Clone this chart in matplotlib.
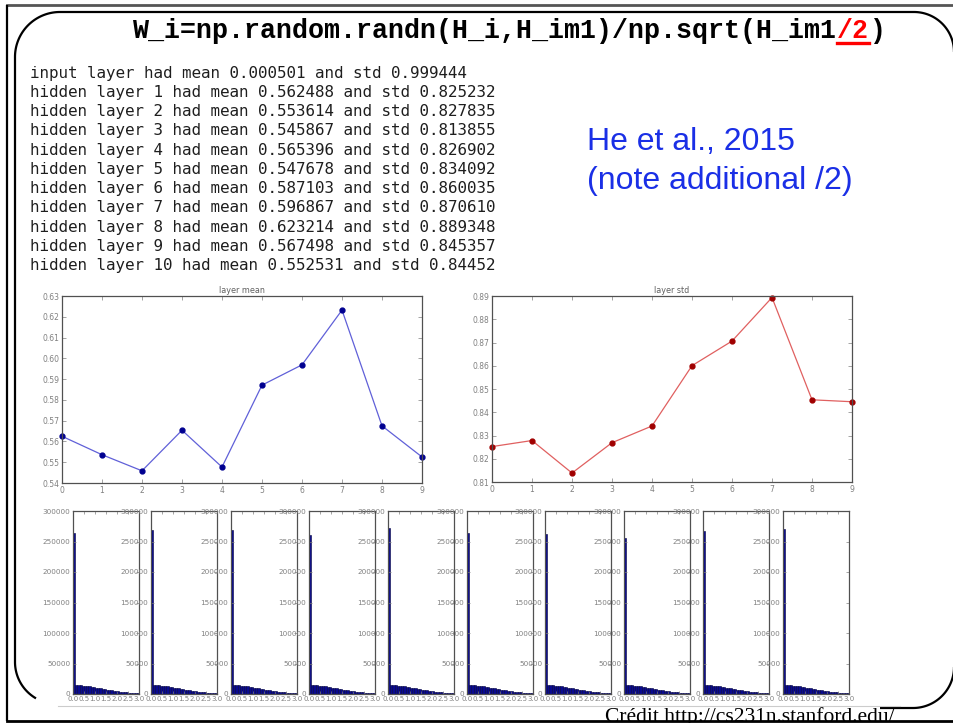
import numpy as np
import matplotlib
matplotlib.use('Agg')
import matplotlib.pyplot as plt

# ---------------- data ----------------
layers = list(range(10))
layer_means = [0.562488, 0.553614, 0.545867, 0.565396, 0.547678,
               0.587103, 0.596867, 0.623214, 0.567498, 0.552531]
layer_stds = [0.825232, 0.827835, 0.813855, 0.826902, 0.834092,
              0.860035, 0.870610, 0.889348, 0.845357, 0.844520]
input_mean = 0.000501
input_std = 0.999444

# histogram of activations per layer (estimated): spike at zero + decaying tail
zero_bin_counts = [264000, 269000, 269000, 261000, 272000,
                   264000, 262000, 256000, 267000, 270000]
tail_counts = [15000, 14700, 14300, 13900, 13400, 12900, 12300, 11700, 11100,
               10500, 9900, 9200, 8600, 7900, 7300, 6700, 6100, 5500, 5000,
               4500, 4000, 3500, 3100, 2700, 2300, 1900, 1600, 1300, 1000]
hist_range = (0.0, 3.0)
hist_yticks = [0, 50000, 100000, 150000, 200000, 250000, 300000]
hist_xticks = [0.0, 0.5, 1.0, 1.5, 2.0, 2.5, 3.0]

title_left = "W_i=np.random.randn(H_i,H_im1)/np.sqrt(H_im1"
title_red = "/2"
title_right = ")"
note_lines = ["He et al., 2015", "(note additional /2)"]
credit = "Crédit http://cs231n.stanford.edu/"

W, H = 954, 723
fig = plt.figure(figsize=(W / 100, H / 100), dpi=100)
fig.patch.set_facecolor('white')

# overlay in pixel coordinates (y downwards)
bg = fig.add_axes([0, 0, 1, 1])
bg.set_xlim(0, W)
bg.set_ylim(H, 0)
bg.axis('off')


def px_ax(l, t, r, b):
    return fig.add_axes([l / W, 1 - b / H, (r - l) / W, (b - t) / H])


def arc(cx, cy, r, t0, t1, **kw):
    t = np.radians(np.linspace(t0, t1, 60))
    bg.plot(cx + r * np.cos(t), cy - r * np.sin(t), **kw)


# ---------------- slide frame ----------------
fk = dict(color='black', lw=1.6, solid_capstyle='butt')
bg.plot([7, W], [5, 5], color='#555555', lw=2)
bg.plot([7, 7], [5, 721], **fk)
bg.plot([7, W], [721, 721], color='black', lw=2)
# inner rounded shape
bg.plot([60, 914], [12, 12], **fk)
arc(60, 57, 45, 90, 180, **fk)
bg.plot([15, 15], [57, 662], **fk)
arc(57, 662, 42, 180, 240, **fk)
arc(914, 52, 40, 0, 90, **fk)
arc(913, 667, 41, 270, 360, **fk)
bg.plot([880, 913], [708, 708], **fk)
bg.plot([58, 900], [706, 706], color='#cccccc', lw=0.8)

# ---------------- title ----------------
tfs = 19.2
cw = tfs * 0.6 * 100 / 72.0
x0 = 133
tkw = dict(fontsize=tfs, fontweight='bold', family='Liberation Mono', va='baseline', ha='left')
bg.text(x0, 38, title_left, color='black', **tkw)
xr = x0 + len(title_left) * cw
bg.text(xr, 38, title_red, color='#ff0000', **tkw)
bg.plot([xr, xr + len(title_red) * cw], [42.5, 42.5], color='#ff0000', lw=2.4)
bg.text(xr + len(title_red) * cw, 38, title_right, color='black', **tkw)

# ---------------- console text ----------------
lines = ["input layer had mean %f and std %f" % (input_mean, input_std)]
for i, (m, s) in enumerate(zip(layer_means, layer_stds)):
    lines.append("hidden layer %d had mean %f and std %f" % (i + 1, m, s))
for k, ln in enumerate(lines):
    bg.text(30, 77.7 + k * 19.25, ln[:49], family='DejaVu Sans Mono', fontsize=11.4,
            color='#1e1e1e', va='baseline', ha='left')

# ---------------- note ----------------
for k, ln in enumerate(note_lines):
    bg.text(587, 150 + k * 39, ln, family='Liberation Sans', fontsize=23,
            color='#1a2fe6', va='baseline', ha='left')

# ---------------- credit ----------------
bg.text(605, 722, credit, family='Liberation Serif', fontsize=15.5,
        color='black', va='baseline', ha='left')

tick_col = '#808080'


def style(ax, lsize=5.5):
    ax.tick_params(direction='in', length=3, width=0.5, colors=tick_col,
                   labelsize=lsize, top=True, right=True, pad=2)
    for sp in ax.spines.values():
        sp.set_color('#505050')
        sp.set_linewidth(0.9)


# ---------------- line plots ----------------
ax1 = px_ax(62, 296, 422, 483)
ax1.plot(layers, layer_means, '-', color='#6060d8', lw=0.9)
ax1.plot(layers, layer_means, 'o', color='#000090', ms=3.5, clip_on=False)
ax1.set_xlim(0, 9)
ax1.set_ylim(0.54, 0.63)
ax1.set_yticks(np.arange(0.54, 0.6301, 0.01))
ax1.set_yticklabels(["%.2f" % v for v in np.arange(0.54, 0.6301, 0.01)])
ax1.set_xticks(layers)
ax1.set_title("layer mean", fontsize=5.8, color='#606060', pad=2)
style(ax1)

ax2 = px_ax(492, 296, 852, 482)
ax2.plot(layers, layer_stds, '-', color='#e06060', lw=0.9)
ax2.plot(layers, layer_stds, 'o', color='#a00000', ms=3.5, clip_on=False)
ax2.set_xlim(0, 9)
ax2.set_ylim(0.81, 0.89)
ax2.set_yticks(np.arange(0.81, 0.8901, 0.01))
ax2.set_yticklabels(["%.2f" % v for v in np.arange(0.81, 0.8901, 0.01)])
ax2.set_xticks(layers)
ax2.set_title("layer std", fontsize=5.8, color='#606060', pad=2)
style(ax2)

# ---------------- histograms ----------------
edges = np.linspace(hist_range[0], hist_range[1], len(tail_counts) + 2)
centers = (edges[:-1] + edges[1:]) / 2
lefts = [73, 151, 231, 309, 388, 467, 545, 624, 703, 783]
for k, zc in enumerate(zero_bin_counts):
    ax = px_ax(lefts[k], 511, lefts[k] + 66, 694)
    counts = [zc] + tail_counts
    ax.hist(centers, bins=edges, weights=counts, facecolor='#0a0a90',
            edgecolor='#000040', linewidth=0.4)
    ax.set_xlim(*hist_range)
    ax.set_ylim(0, 300000)
    ax.set_yticks(hist_yticks)
    ax.set_yticklabels([str(v) for v in hist_yticks])
    ax.set_xticks(hist_xticks)
    ax.set_xticklabels(["%.1f" % v for v in hist_xticks])
    style(ax, lsize=5.2)
    ax.tick_params(axis='x', labelsize=5, pad=1.5)
    ax.tick_params(length=2)

fig.savefig('out.png', dpi=100, facecolor='white')
